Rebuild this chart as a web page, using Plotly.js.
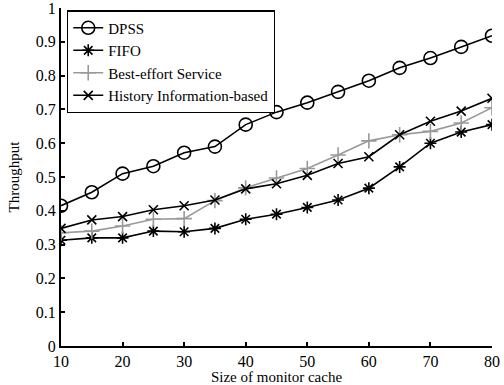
<!DOCTYPE html>
<html>
<head>
<meta charset="utf-8">
<script src="https://cdn.plot.ly/plotly-3.0.1.min.js"></script>
<style>html,body{margin:0;padding:0;background:#fff;}#chart{width:504px;height:385px;}</style>
</head>
<body>
<div id="chart"></div>
<script>
const cacheSize = [10, 15, 20, 25, 30, 35, 40, 45, 50, 55, 60, 65, 70, 75, 80];
const dpss = [0.415, 0.455, 0.51, 0.532, 0.572, 0.59, 0.655, 0.692, 0.72, 0.752, 0.785, 0.823, 0.852, 0.885, 0.918];
const fifo = [0.313, 0.32, 0.32, 0.34, 0.338, 0.348, 0.375, 0.39, 0.41, 0.432, 0.467, 0.53, 0.6, 0.633, 0.655];
const bestEffort = [0.335, 0.34, 0.355, 0.375, 0.377, 0.43, 0.468, 0.497, 0.525, 0.565, 0.607, 0.625, 0.635, 0.66, 0.705];
const history = [0.348, 0.373, 0.383, 0.403, 0.415, 0.432, 0.465, 0.48, 0.505, 0.54, 0.56, 0.625, 0.665, 0.695, 0.733];
const xTicks = [10, 20, 30, 40, 50, 60, 70, 80];
const yTicks = [0, 0.1, 0.2, 0.3, 0.4, 0.5, 0.6, 0.7, 0.8, 0.9, 1];

const fam = 'Liberation Serif, Times New Roman, serif';
const font = {family: fam, size: 16, color: '#000'};
const titleFont = {family: fam, size: 15, color: '#000'};
const legFont = {family: fam, size: 15, color: '#000'};
function tr(name, y, color, symbol, size) {
  return {x: cacheSize, y: y, name: name, type: 'scatter', mode: 'lines+markers',
    line: {color: color, width: 1.6},
    marker: {symbol: symbol, size: size, color: color, line: {color: color, width: 1.6}}};
}
const data = [
  tr('DPSS', dpss, '#000', 'circle-open', 13),
  tr('FIFO', fifo, '#000', 'asterisk-open', 10),
  tr('Best-effort Service', bestEffort, '#999', 'cross-thin-open', 11),
  tr('History Information-based', history, '#000', 'x-thin-open', 9)
];
const layout = {
  width: 504, height: 385,
  margin: {l: 61, r: 12, t: 8, b: 39},
  paper_bgcolor: '#fff', plot_bgcolor: '#fff',
  font: font,
  showlegend: true,
  legend: {x: 0.014, y: 0.993, xanchor: 'left', yanchor: 'top', bordercolor: '#000', borderwidth: 1.2,
    bgcolor: '#fff', font: legFont, tracegroupgap: 0},
  xaxis: {range: [10, 80.0001], tickvals: xTicks, ticktext: xTicks.map(String), ticks: 'inside', ticklen: 4,
    tickwidth: 2, tickcolor: '#000', showline: true, linecolor: '#000', linewidth: 2, showgrid: false, zeroline: false,
    title: {text: 'Size of monitor cache', font: titleFont, standoff: 3}, tickfont: font},
  yaxis: {range: [0, 1.0001], tickvals: yTicks, ticktext: yTicks.map(String), ticks: 'inside', ticklen: 4,
    tickwidth: 2, tickcolor: '#000', showline: true, linecolor: '#000', linewidth: 2, showgrid: false, zeroline: false,
    ticklabeloverflow: 'allow',
    title: {text: 'Throughput', font: titleFont, standoff: 13}, tickfont: font}
};
Plotly.newPlot('chart', data, layout, {displayModeBar: false, staticPlot: true});
</script>
</body>
</html>
